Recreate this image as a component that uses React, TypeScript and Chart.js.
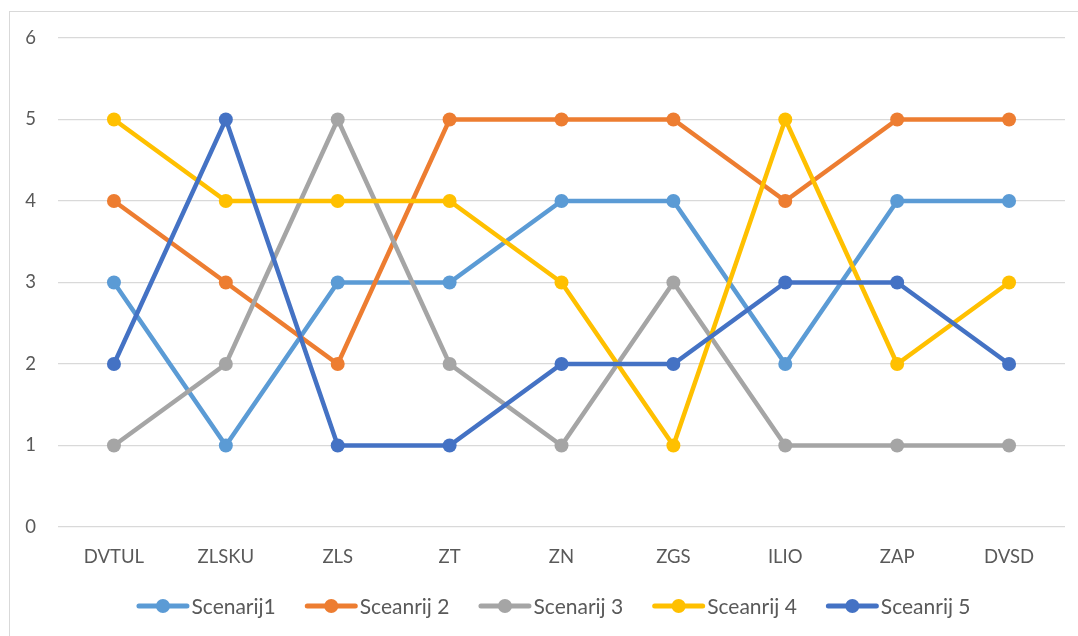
import React, { useEffect, useRef } from "react";
import { Chart, registerables } from "chart.js";

Chart.register(...registerables);

const categories = ["DVTUL", "ZLSKU", "ZLS", "ZT", "ZN", "ZGS", "ILIO", "ZAP", "DVSD"];
const seriesNames = ["Scenarij1", "Sceanrij 2", "Scenarij 3", "Sceanrij 4", "Sceanrij 5"];
const scenarij1 = [3, 1, 3, 3, 4, 4, 2, 4, 4];
const sceanrij2 = [4, 3, 2, 5, 5, 5, 4, 5, 5];
const scenarij3 = [1, 2, 5, 2, 1, 3, 1, 1, 1];
const sceanrij4 = [5, 4, 4, 4, 3, 1, 5, 2, 3];
const sceanrij5 = [2, 5, 1, 1, 2, 2, 3, 3, 2];
const seriesValues = [scenarij1, sceanrij2, scenarij3, sceanrij4, sceanrij5];
const seriesColors = ["#5B9BD5", "#ED7D31", "#A5A5A5", "#FFC000", "#4472C4"];
const yTicks = [0, 1, 2, 3, 4, 5, 6];

const FONT = "Lato, 'Open Sans', sans-serif";
const TEXT = "#595959";
const FSIZE = 18.5;
const LEGEND_FSIZE = 21;

const borderPlugin = {
  id: "frameBorder",
  beforeDraw(chart: any) {
    const ctx = chart.ctx;
    ctx.save();
    ctx.fillStyle = "#ffffff";
    ctx.fillRect(0, 0, chart.width, chart.height);
    ctx.strokeStyle = "#D9D9D9";
    ctx.lineWidth = 1;
    ctx.strokeRect(9.5, 11.5, chart.width + 10, chart.height + 10);
    ctx.restore();
  },
};

const legendPlugin = {
  id: "lineLegend",
  afterDraw(chart: any) {
    const ctx = chart.ctx;
    ctx.save();
    ctx.font = `${LEGEND_FSIZE}px ${FONT}`;
    ctx.textBaseline = "middle";
    const y = 606;
    const symW = 53;
    const gapText = 2;
    const gapItem = 29;
    const items = chart.data.datasets.map((d: any) => ({
      label: d.label,
      color: d.borderColor,
      w: symW + gapText + ctx.measureText(d.label).width,
    }));
    const total = items.reduce((s: number, it: any) => s + it.w, 0) + gapItem * (items.length - 1);
    let x = 553.5 - total / 2;
    for (const it of items) {
      ctx.strokeStyle = it.color;
      ctx.lineWidth = 5;
      ctx.lineCap = "round";
      ctx.beginPath();
      ctx.moveTo(x + 2.5, y);
      ctx.lineTo(x + symW - 2.5, y);
      ctx.stroke();
      ctx.fillStyle = it.color;
      ctx.beginPath();
      ctx.arc(x + symW / 2, y, 7, 0, Math.PI * 2);
      ctx.fill();
      ctx.fillStyle = TEXT;
      ctx.textAlign = "left";
      ctx.fillText(it.label, x + symW + gapText, y + 1);
      x += it.w + gapItem;
    }
    ctx.restore();
  },
};

export default function App() {
  const ref = useRef<HTMLCanvasElement>(null);
  useEffect(() => {
    if (!ref.current) return;
    const chart = new Chart(ref.current, {
      type: "line",
      data: {
        labels: categories,
        datasets: seriesValues.map((vals, i) => ({
          label: seriesNames[i],
          data: vals,
          borderColor: seriesColors[i],
          backgroundColor: seriesColors[i],
          pointBackgroundColor: seriesColors[i],
          pointBorderWidth: 0,
          pointRadius: 7,
          borderWidth: 4.5,
          tension: 0,
          order: seriesValues.length - i,
        })),
      },
      options: {
        responsive: false,
        animation: false,
        devicePixelRatio: 1,
        layout: { padding: { left: 0, right: 13, top: 38, bottom: 64 } },
        plugins: { legend: { display: false }, tooltip: { enabled: false } },
        scales: {
          x: {
            type: "category",
            offset: true,
            grid: { display: false, drawTicks: false },
            border: { display: false },
            ticks: { color: TEXT, font: { family: FONT, size: FSIZE }, padding: 19, maxRotation: 0 },
            afterFit: (s: any) => { s.height = 45; },
          },
          y: {
            min: 0,
            max: 6,
            afterBuildTicks: (s: any) => { s.ticks = yTicks.map((v) => ({ value: v })); },
            grid: { color: "#D9D9D9", lineWidth: 1.3, drawTicks: false },
            border: { display: false },
            ticks: { color: TEXT, font: { family: FONT, size: FSIZE }, padding: 22 },
            afterFit: (s: any) => { s.width = 58; },
          },
        },
      },
      plugins: [borderPlugin, legendPlugin],
    });
    return () => chart.destroy();
  }, []);
  return (
    <div style={{ position: "fixed", left: 0, top: 0, width: 1078, height: 636, background: "#fff" }}>
      <canvas ref={ref} width={1078} height={636} style={{ width: 1078, height: 636, display: "block" }} />
    </div>
  );
}
